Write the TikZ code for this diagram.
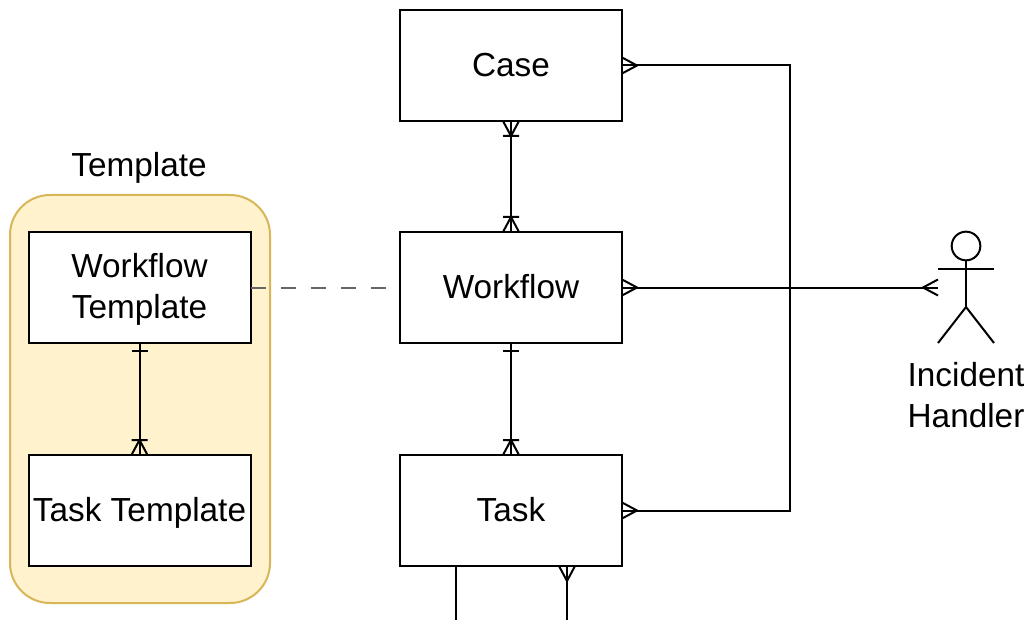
\documentclass[tikz,border=0pt]{standalone}
\usepackage{fontspec}
\setmainfont{Liberation Sans}
\usetikzlibrary{arrows.meta}

% zakonczenia linii
\pgfdeclarearrow{name=Many, parameters={}, setup code={\pgfarrowssettipend{0pt}\pgfarrowssetlineend{0pt}},
	drawing code={
		\pgfpathmoveto{\pgfqpoint{0pt}{6pt}}\pgfpathlineto{\pgfqpoint{-11.25pt}{0pt}}\pgfpathlineto{\pgfqpoint{0pt}{-6pt}}
		\pgfusepathqstroke}}
\pgfdeclarearrow{name=ManyBar, parameters={}, setup code={\pgfarrowssettipend{0pt}\pgfarrowssetlineend{0pt}},
	drawing code={
		\pgfpathmoveto{\pgfqpoint{0pt}{6pt}}\pgfpathlineto{\pgfqpoint{-11.25pt}{0pt}}\pgfpathlineto{\pgfqpoint{0pt}{-6pt}}
		\pgfpathmoveto{\pgfqpoint{-11.25pt}{6pt}}\pgfpathlineto{\pgfqpoint{-11.25pt}{-6pt}}
		\pgfusepathqstroke}}
\pgfdeclarearrow{name=OneBar, parameters={}, setup code={\pgfarrowssettipend{0pt}\pgfarrowssetlineend{0pt}},
	drawing code={
		\pgfpathmoveto{\pgfqpoint{-6pt}{6pt}}\pgfpathlineto{\pgfqpoint{-6pt}{-6pt}}
		\pgfusepathqstroke}}

\definecolor{groupfill}{HTML}{FFF2CC}
\definecolor{groupline}{HTML}{D6B656}
\definecolor{dashline}{HTML}{666666}

\tikzset{
	one line/.style = {text height = 20pt, text depth = 4pt, align = center},
	two lines/.style = {text height = 50.75pt, text depth = 4pt, align = center},
	entity/.style = {draw, rectangle, fill = white, outer sep = 0pt, minimum width = 166.5pt, minimum height = 83.25pt},
}

\begin{document}
\begin{tikzpicture}[x = 0.75pt, y = -0.75pt, line width = 1.5pt, font = \fontsize{25pt}{30.75pt}\selectfont]
		\useasboundingbox (0,0) rectangle (1030,620);
		
		% grupa z lewej
		\node[draw = groupline, fill = groupfill, rectangle, rounded corners = 30pt, line width = 1.5pt, minimum width = 195pt, minimum height = 306pt] (group) at (140,399) {};
		\node[one line] (grouplabel) at (139,166) {Template};
		
		\node[entity, two lines] (wftemplate) at (139.5,287.5) {Workflow\\Template};
		\node[entity, one line] (tasktemplate) at (139.5,510.5) {Task Template};
		
		% srodkowa kolumna
		\node[entity, one line] (case) at (511,65.5) {Case};
		\node[entity, one line] (workflow) at (511,287.5) {Workflow};
		\node[entity, one line] (task) at (511,510.5) {Task};
		
		% aktor
		\node[draw, circle, minimum size = 21.5pt, inner sep = 0pt, outer sep = 0pt] (head) at (966,246) {};
		\coordinate (hip) at (966,307);
		\coordinate (arm) at (938,287.5);
		\draw (head.south) -- (hip);
		\draw (938,269) -- (994,269);
		\draw (938,343) -- (hip) -- (994,343);
		\node[two lines] (handler) at (966,396) {Incident\\Handler};
		
		\coordinate (bus) at (790,287.5);
		\coordinate (outleft) at (456,620);
		\coordinate (outright) at (567,620);
		
		\draw[{OneBar}-{ManyBar}] (wftemplate) -- (tasktemplate);
		\draw[{ManyBar}-{ManyBar}] (case) -- (workflow);
		\draw[{OneBar}-{ManyBar}] (workflow) -- (task);
		\draw[{Many}-{Many}] (case.east) -| (bus) |- (task.east);
		\draw[{Many}-{Many}] (workflow.east) -- (arm);
		\draw (outleft |- task.south) -- (outleft);
		\draw[{Many}-] (outright |- task.south) -- (outright);
		\draw[dashline, line width = 1.5pt, dash pattern = on 11.25pt off 11.25pt] (wftemplate) -- (workflow);
	\end{tikzpicture}
\end{document}
